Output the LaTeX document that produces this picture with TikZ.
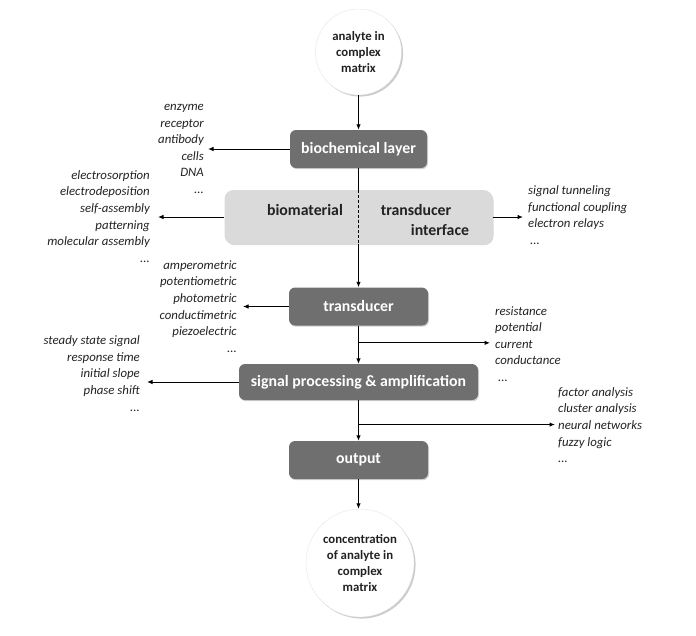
\documentclass[tikz,border=0pt]{standalone}
\usepackage{fontspec}
\setmainfont{Carlito}
\usetikzlibrary{arrows.meta,shadows,calc}
\definecolor{boxdark}{HTML}{6F6F6F}
\definecolor{boxlight}{HTML}{DADADA}
\definecolor{txt}{HTML}{222222}
\begin{document}
\begin{tikzpicture}[x=1pt,y=-1pt,
  darkbox/.style={rectangle, rounded corners=6pt, fill=boxdark, text=white,
    font=\fontsize{15.8}{18}\selectfont\bfseries, minimum height=38pt,
    drop shadow={opacity=0.35, shadow xshift=1pt, shadow yshift=-1.2pt}},
  lightbox/.style={rectangle, rounded corners=9pt, fill=boxlight, text=txt,
    minimum width=268pt, minimum height=54pt,
    drop shadow={opacity=0.3, shadow xshift=1pt, shadow yshift=-1.2pt}},
  boxtext/.style={text=txt, font=\fontsize{15.8}{18}\selectfont\bfseries, inner sep=0pt},
  circ/.style={circle, fill=white, draw=black!12, line width=0.3pt, text=txt,
    align=center, font=\fontsize{12.8}{16}\selectfont\bfseries,
    drop shadow={opacity=0.4, shadow xshift=1.6pt, shadow yshift=-1.6pt}},
  item/.style={font=\fontsize{12.8}{16.6}\selectfont\itshape, text=txt, inner sep=0pt},
  leftlist/.style={item, align=right, anchor=east},
  rightlist/.style={item, align=left, anchor=west},
  arr/.style={-{Latex[length=5.5pt,width=4.5pt]}, line width=1pt},
  ln/.style={line width=1pt}
]
\useasboundingbox (0,0) rectangle (696,635);

% main chain
\node[circ, minimum size=86pt] (in) at (358.5,52) {analyte in\\complex\\matrix};
\node[darkbox, minimum width=137pt] (bio) at (358.5,149) {biochemical layer};
\node[lightbox] (iface) at (358.5,217) {};
\node[boxtext] (biomat) at (305,210) {biomaterial};
\node[boxtext] (trtxt) at (416,210) {transducer};
\node[boxtext] (inttxt) at (440,230) {interface};
\node[darkbox, minimum width=139pt] (trans) at (358.5,306.5) {transducer};
\node[darkbox, minimum width=239pt, minimum height=36pt] (sig) at (358.5,382) {signal processing \& amplification};
\node[darkbox, minimum width=139pt] (out) at (358.5,460) {output};
\node[circ, minimum size=108pt] (conc) at (360,563) {concentration\\of analyte in\\complex\\matrix};

% lists
\node[leftlist] (l1) at (204,149) {enzyme\\receptor\\antibody\\cells\\DNA\\...};
\node[leftlist] (l2) at (150,216.5) {electrosorption\\electrodeposition\\self-assembly\\patterning\\molecular assembly\\...};
\node[rightlist] (r1) at (528,215) {signal tunneling\\functional coupling\\electron relays\\\hspace{2pt}...};
\node[leftlist] (l3) at (237,306.5) {amperometric\\potentiometric\\photometric\\conductimetric\\piezoelectric\\...};
\node[rightlist] (r2) at (495,344) {resistance\\potential\\current\\conductance\\\hspace{3pt}...};
\node[leftlist] (l4) at (140,373.5) {steady state signal\\response time\\initial slope\\phase shift\\...};
\node[rightlist] (r3) at (558,425) {factor analysis\\cluster analysis\\neural networks\\fuzzy logic\\...};

% vertical connectors
\draw[arr] (in.south) -- (bio.north);
\draw[ln] (bio.south) -- (bio.south |- iface.north);
\draw[ln, dash pattern=on 3pt off 2pt] (bio.south |- iface.north) -- (bio.south |- iface.south);
\draw[arr] (bio.south |- iface.south) -- (trans.north);
\draw[arr] (trans.south) -- (sig.north);
\draw[arr] (sig.south) -- (out.north);
\draw[arr] (out.south) -- (out.south |- conc.north);

% side connectors
\draw[arr] (bio.west) -- ([xshift=4pt]bio.west -| l1.east);
\draw[arr] (iface.west) -- ([xshift=8pt]iface.west -| l2.east);
\draw[arr] (iface.east) -- ([xshift=-5pt]iface.east -| r1.west);
\draw[arr] (trans.west) -- ([xshift=6pt]trans.west -| l3.east);
\coordinate (b1) at ($(trans.south)!0.45!(sig.north)$);
\draw[arr] (b1) -- ([xshift=-5pt]b1 -| r2.west);
\draw[arr] (sig.west) -- ([xshift=7pt]sig.west -| l4.east);
\coordinate (b2) at ($(sig.south)!0.6!(out.north)$);
\draw[arr] (b2) -- ([xshift=-3pt]b2 -| r3.west);
\end{tikzpicture}
\end{document}
